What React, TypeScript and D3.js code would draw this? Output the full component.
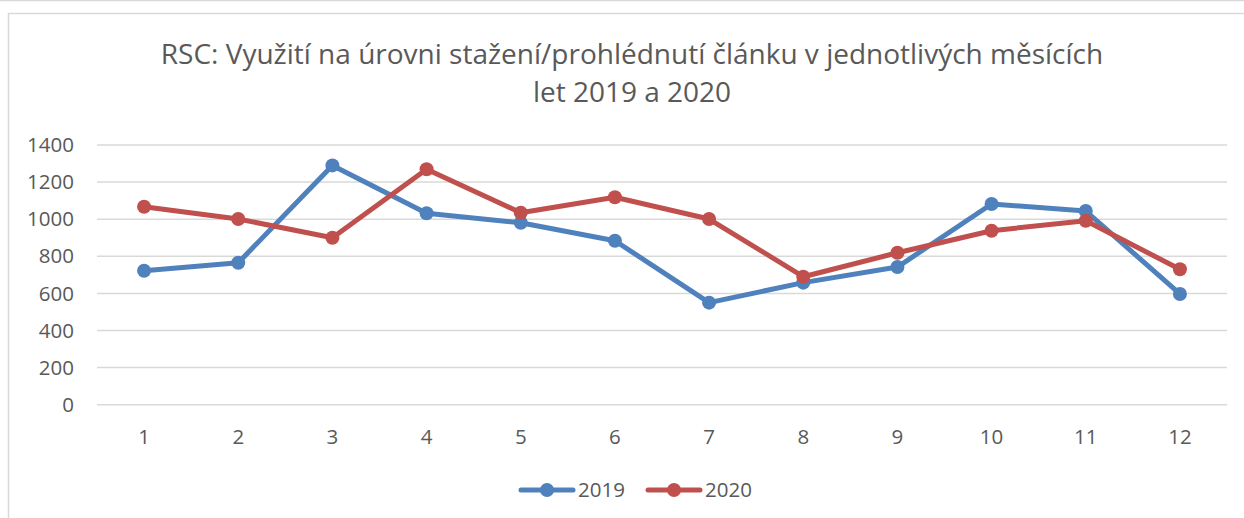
import React, { useEffect, useRef } from "react";
import * as d3 from "d3";

const WIDTH = 1244;
const HEIGHT = 518;

const months: string[] = ["1", "2", "3", "4", "5", "6", "7", "8", "9", "10", "11", "12"];
const values2019: number[] = [722, 765, 1290, 1032, 981, 884, 550, 658, 742, 1082, 1044, 597];
const values2020: number[] = [1067, 1001, 900, 1269, 1035, 1118, 1001, 690, 819, 938, 992, 730];
const yTicks: number[] = [0, 200, 400, 600, 800, 1000, 1200, 1400];
const seriesNames: string[] = ["2019", "2020"];
const seriesColors: string[] = ["#4F81BD", "#C0504D"];
const titleLines: string[] = [
  "RSC: Využití na úrovni stažení/prohlédnutí článku v jednotlivých měsících",
  "let 2019 a 2020",
];

const FONT = "'Open Sans', 'Liberation Sans', sans-serif";

const App: React.FC = () => {
  const ref = useRef<SVGSVGElement | null>(null);

  useEffect(() => {
    if (!ref.current) return;
    const svg = d3.select(ref.current);
    svg.selectAll("*").remove();

    // fond + cadres
    svg.append("rect").attr("width", WIDTH).attr("height", HEIGHT).attr("fill", "#fff");
    svg.append("line").attr("x1", 0).attr("x2", WIDTH).attr("y1", 0.5).attr("y2", 0.5)
      .attr("stroke", "#D9D9D9").attr("stroke-width", 1.5);
    svg.append("rect").attr("x", 8.5).attr("y", 13.5).attr("width", WIDTH + 20).attr("height", HEIGHT + 20)
      .attr("fill", "none").attr("stroke", "#D9D9D9").attr("stroke-width", 1.5);

    const x = d3.scaleBand<string>().domain(months).range([97, 1227]);
    const y = d3.scaleLinear().domain([0, 1400]).range([404.7, 145]);

    // titre
    svg.append("g").selectAll("text").data(titleLines).enter().append("text")
      .attr("x", 632).attr("y", (_, i) => 64 + i * 38)
      .attr("text-anchor", "middle").attr("font-family", FONT).attr("font-size", 28)
      .attr("fill", "#595959").text((d) => d);

    // grille
    svg.append("g").selectAll("line").data(yTicks).enter().append("line")
      .attr("x1", 97).attr("x2", 1227)
      .attr("y1", (d) => y(d)).attr("y2", (d) => y(d))
      .attr("stroke", "#D9D9D9").attr("stroke-width", 1.5);

    svg.append("g").selectAll("text").data(yTicks).enter().append("text")
      .attr("x", 74).attr("y", (d) => y(d)).attr("dy", "0.35em")
      .attr("text-anchor", "end").attr("font-family", FONT).attr("font-size", 20.5)
      .attr("fill", "#595959").text((d) => String(d));

    svg.append("g").selectAll("text").data(months).enter().append("text")
      .attr("x", (d) => (x(d) || 0) + x.bandwidth() / 2).attr("y", 437).attr("dy", "0.35em")
      .attr("text-anchor", "middle").attr("font-family", FONT).attr("font-size", 20.5)
      .attr("fill", "#595959").text((d) => d);

    // séries
    const line = d3.line<number>()
      .x((_, i) => (x(months[i]) || 0) + x.bandwidth() / 2)
      .y((d) => y(d));

    [values2019, values2020].forEach((vals, s) => {
      const g = svg.append("g");
      g.append("path").datum(vals).attr("d", line).attr("fill", "none")
        .attr("stroke", seriesColors[s]).attr("stroke-width", 5).attr("stroke-linejoin", "round");
      g.selectAll("circle").data(vals).enter().append("circle")
        .attr("cx", (_, i) => (x(months[i]) || 0) + x.bandwidth() / 2)
        .attr("cy", (d) => y(d)).attr("r", 7).attr("fill", seriesColors[s]);
    });

    // légende
    const legendX = [521, 648];
    seriesNames.forEach((name, s) => {
      const g = svg.append("g").attr("transform", `translate(${legendX[s]},490)`);
      g.append("line").attr("x1", 0).attr("x2", 52).attr("y1", 0).attr("y2", 0)
        .attr("stroke", seriesColors[s]).attr("stroke-width", 5).attr("stroke-linecap", "round");
      g.append("circle").attr("cx", 26).attr("r", 7).attr("fill", seriesColors[s]);
      g.append("text").attr("x", 57).attr("dy", "0.35em").attr("font-family", FONT)
        .attr("font-size", 20.5).attr("fill", "#595959").text(name);
    });
  }, []);

  return (
    <div style={{ position: "absolute", left: 0, top: 0 }}>
      <svg ref={ref} width={WIDTH} height={HEIGHT} style={{ display: "block" }} />
    </div>
  );
};

export default App;
